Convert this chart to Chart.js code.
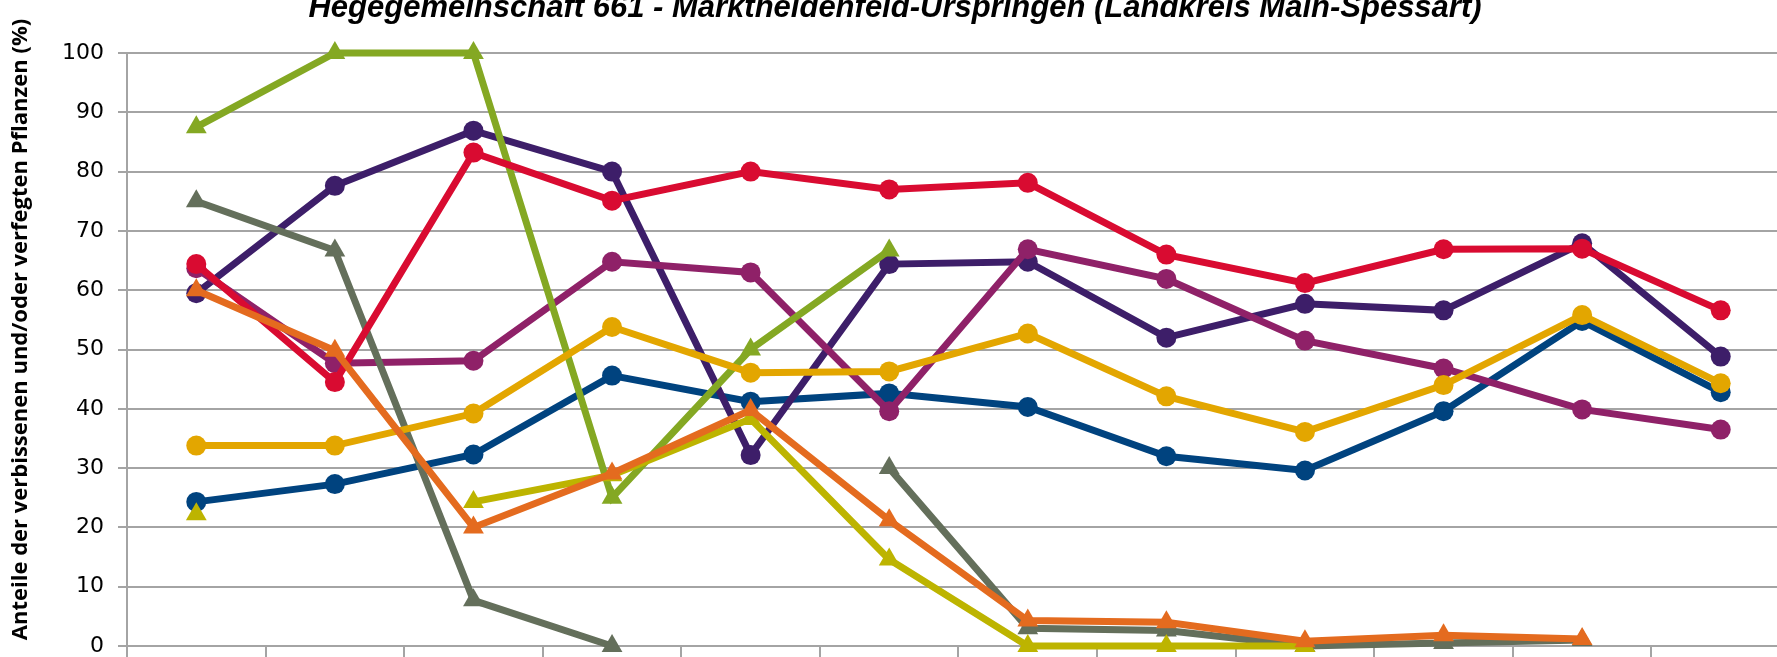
<!DOCTYPE html>
<html>
<head>
<meta charset="utf-8">
<script src="https://cdn.jsdelivr.net/npm/chart.js@4.4.1/dist/chart.umd.min.js"></script>
<style>
  html, body { margin: 0; padding: 0; background: #fff; overflow: hidden; }
  #wrap { position: relative; width: 1777px; height: 657px; overflow: hidden; }
  #chart { position: absolute; left: 0; top: -45px; }
</style>
</head>
<body>
<div id="wrap"><canvas id="chart" width="1802" height="760"></canvas></div>
<script>
const labels = ['1991', '1994', '1997', '2000', '2003', '2006', '2009', '2012', '2015', '2018', '2021', '2024'];

// circle series
const blueValues = [24.3, 27.3, 32.3, 45.6, 41.2, 42.6, 40.3, 32.0, 29.6, 39.6, 54.8, 42.8];
const amberValues = [33.8, 33.8, 39.2, 53.8, 46.1, 46.3, 52.7, 42.1, 36.1, 44.0, 55.8, 44.3];
const redValues = [64.4, 44.5, 83.2, 75.1, 80.0, 77.0, 78.1, 66.0, 61.2, 66.9, 67.0, 56.6];
const purpleValues = [59.5, 77.6, 86.9, 80.0, 32.2, 64.4, 64.8, 52.0, 57.7, 56.6, 67.9, 48.8];
const magentaValues = [63.7, 47.7, 48.1, 64.8, 63.0, 39.6, 66.9, 61.9, 51.5, 46.8, 39.9, 36.5];

// triangle series
const greenValues = [87.5, 100, 100, 25.0, 50.0, 66.7, null, null, 0, null, null, null];
const grayValues = [75.0, 66.7, 7.7, 0, null, 30.0, 3.0, 2.6, 0, 0.5, 1.0, null];
const oliveValues = [22.2, null, 24.3, 28.8, 38.3, 14.6, 0, 0, 0, null, null, null];
const orangeValues = [60.0, 49.8, 20.0, 29.1, 39.8, 21.2, 4.3, 4.0, 0.8, 1.8, 1.2, null];

const gridColor = '#A4A4A4';

function series(label, values, color, style) {
  return {
    label: label,
    data: values,
    borderColor: color,
    backgroundColor: color,
    pointBackgroundColor: color,
    pointBorderColor: color,
    borderWidth: 7,
    pointStyle: style,
    pointRadius: style === 'triangle' ? 12 : 10,
    pointBorderWidth: 0,
    tension: 0,
    spanGaps: false,
    clip: false
  };
}

// first entry is drawn on top
const datasets = [
  series('Reihe 9', orangeValues, '#E46B1F', 'triangle'),
  series('Reihe 3', redValues, '#D90B31', 'circle'),
  series('Reihe 2', amberValues, '#E3A600', 'circle'),
  series('Reihe 8', oliveValues, '#BDB400', 'triangle'),
  series('Reihe 7', grayValues, '#646F5B', 'triangle'),
  series('Reihe 6', greenValues, '#84A823', 'triangle'),
  series('Reihe 5', magentaValues, '#8F2168', 'circle'),
  series('Reihe 4', purpleValues, '#3D1E69', 'circle'),
  series('Reihe 1', blueValues, '#00437F', 'circle')
];

const ctx = document.getElementById('chart').getContext('2d');

const config = {
  type: 'line',
  data: { labels: labels, datasets: datasets },
  options: {
    responsive: false,
    animation: false,
    devicePixelRatio: 1,
    layout: { padding: { left: 0, right: 12, top: 0, bottom: 0 } },
    plugins: {
      legend: { display: false },
      tooltip: { enabled: false },
      title: {
        display: true,
        text: 'Hegegemeinschaft 661 - Marktheidenfeld-Urspringen (Landkreis Main-Spessart)',
        color: '#000',
        font: { family: "'Liberation Sans Narrow', 'Liberation Sans', sans-serif", size: 31, style: 'italic', weight: 'bold', lineHeight: 1.2 },
        padding: { top: 35, bottom: 25.8 }
      }
    },
    scales: {
      x: {
        offset: true,
        grid: { display: true, drawOnChartArea: false, drawTicks: true, tickLength: 12, offset: true, color: gridColor, lineWidth: 2 },
        border: { display: true, color: gridColor, width: 2 },
        ticks: { color: '#000', font: { family: 'DejaVu Sans', size: 22 }, padding: 6 },
        afterFit: s => { s.height = 69; }
      },
      y: {
        min: 0,
        max: 100,
        ticks: { stepSize: 10, color: '#000', font: { family: 'DejaVu Sans', size: 22 }, padding: 14 },
        grid: { color: gridColor, lineWidth: 2, drawTicks: true, tickLength: 9 },
        border: { display: true, color: gridColor, width: 2 },
        title: {
          display: true,
          // leading spaces push the rotated text a little upwards, as in the original
          text: '       Anteile der verbissenen und/oder verfegten Pflanzen (%)',
          color: '#000',
          font: { family: 'Open Sans', size: 22, weight: 'bold', lineHeight: 1.2 },
          padding: { top: 8, bottom: 0 }
        },
        afterFit: s => { s.width = 127; }
      }
    }
  }
};

const chart = new Chart(ctx, config);
</script>
</body>
</html>
